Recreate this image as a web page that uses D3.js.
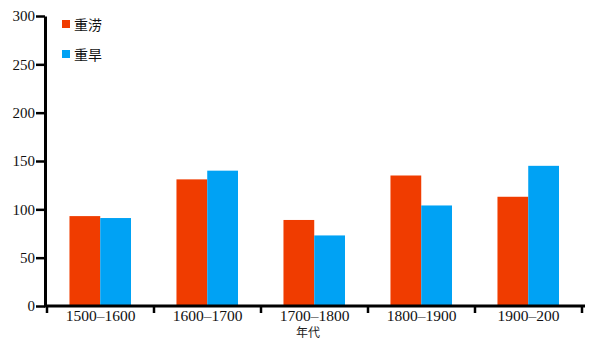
<!DOCTYPE html>
<html><head><meta charset="utf-8">
<script src="https://cdn.jsdelivr.net/npm/d3@7"></script>
<style>body{margin:0;background:#fff}svg{display:block}</style>
</head><body>
<svg id="c" width="596" height="339"></svg>
<script>
const categories = ["1500–1600","1600–1700","1700–1800","1800–1900","1900–200"];
const seriesNames = ["重涝","重旱"];
const floodValues = [93, 131, 89, 135, 113];
const droughtValues = [91, 140, 73, 104, 145];
const yTicks = [0,50,100,150,200,250,300];
const colors = ["#f03c00","#00a2f4"];
const xTitle = "年代";

const SERIF = "'Liberation Serif', 'Times New Roman', serif";
const svg = d3.select("#c");
const x0 = d3.scaleBand().domain(categories).range([47,582]).paddingInner(0).paddingOuter(0);
const bw = x0.bandwidth();
const x1 = d3.scaleBand().domain(seriesNames).range([bw*0.21, bw*0.785]).padding(0);
const y = d3.scaleLinear().domain([0,300]).range([306,16]);

const series = [floodValues, droughtValues];
const g = svg.append("g");
categories.forEach((c,i)=>{
  seriesNames.forEach((s,j)=>{
    g.append("rect")
      .attr("x", x0(c)+x1(s))
      .attr("y", y(series[j][i]))
      .attr("width", x1.bandwidth())
      .attr("height", y(0)-y(series[j][i]))
      .attr("fill", colors[j]);
  });
});

// y axis
const yAxis = svg.append("g").attr("transform","translate(45,0)")
  .call(d3.axisLeft(y).tickValues(yTicks).tickSize(9).tickSizeOuter(0).tickPadding(1));
yAxis.attr("font-family",SERIF).attr("font-size",15);
yAxis.select(".domain").attr("stroke","#000").attr("stroke-width",3);
yAxis.selectAll(".tick line").attr("stroke","#000").attr("stroke-width",2.5);
yAxis.selectAll(".tick text").style("font-family",SERIF).style("font-size","15px").attr("fill","#111");

// x axis
const xAxis = svg.append("g").attr("transform","translate(0,306)")
  .call(d3.axisBottom(x0).tickSize(0).tickSizeOuter(0).tickPadding(4));
xAxis.attr("font-family",SERIF).attr("font-size",15.5);
xAxis.select(".domain").attr("d","M44,0H585").attr("stroke","#000").attr("stroke-width",3);
xAxis.selectAll(".tick text").style("font-family",SERIF).style("font-size","15.5px").attr("fill","#111").attr("dy","0.72em");
// boundary ticks
const bounds = categories.map(c=>x0(c)).concat([x0(categories[categories.length-1])+bw]);
svg.append("g").selectAll("line").data(bounds).join("line")
  .attr("x1",d=>d).attr("x2",d=>d).attr("y1",306).attr("y2",313)
  .attr("stroke","#000").attr("stroke-width",2.5);

svg.append("text").attr("x",308).attr("y",337).attr("text-anchor","middle")
  .style("font-family","'Noto Sans CJK SC',sans-serif").style("font-size","12px").attr("fill","#222").text(xTitle);

// legend
const leg = svg.append("g");
seriesNames.forEach((s,j)=>{
  leg.append("rect").attr("x",62).attr("y",20+j*30).attr("width",8).attr("height",8).attr("fill",colors[j]);
  leg.append("text").attr("x",74).attr("y",29.5+j*30).style("font-family","'Noto Sans CJK SC',sans-serif")
    .style("font-size","14px").attr("fill","#111").text(s);
});
</script>
</body></html>
